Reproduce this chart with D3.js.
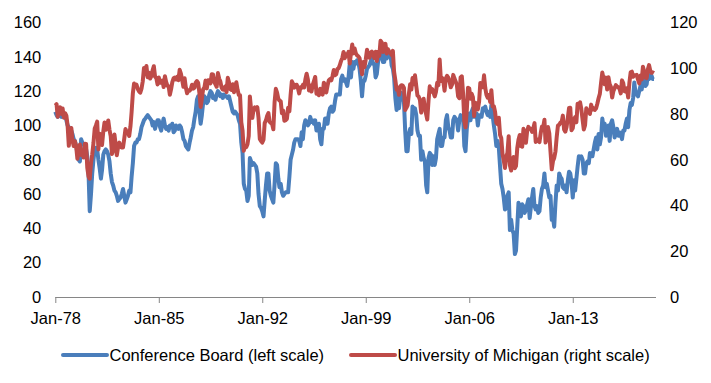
<!DOCTYPE html>
<html>
<head>
<meta charset="utf-8">
<script src="https://cdn.jsdelivr.net/npm/d3@7"></script>
<style>
  body { margin: 0; background: #fff; }
  text { font-family: "Liberation Sans", Arial, sans-serif; font-size: 16.5px; fill: #000; }
</style>
</head>
<body>
<div id="chart"></div>
<script>
// Monthly data, Jan 1978 - Jul 2018 (one row per year)
const startYear = 1978, startMonth = 0;

const confBoard = [
  108, 106, 105, 107, 106, 105, 106, 107, 106, 103, 100, 99,
  98, 97, 95, 92, 91, 88, 84, 80, 79, 92, 90, 89,
  89, 86, 82, 72, 50, 60, 72, 80, 86, 87, 86, 80,
  75, 69, 74, 83, 85, 86, 85, 83, 79, 72, 67, 65,
  62, 61, 59, 56, 57, 58, 60, 63, 59, 55, 57, 59,
  62, 61, 70, 78, 88, 90, 90, 92, 92, 95, 99, 101,
  103, 104, 105, 106, 105, 104, 103, 100, 102, 98, 101, 103,
  103, 99, 97, 101, 104, 100, 98, 99, 97, 100, 99, 101,
  96, 97, 100, 99, 98, 100, 99, 96, 92, 91, 88, 87,
  86, 90, 93, 97, 99, 104, 108, 115, 117, 108, 101, 106,
  113, 117, 116, 113, 114, 118, 120, 119, 116, 117, 115, 118,
  120, 119, 117, 118, 116, 118, 117, 117, 116, 117, 114, 111,
  108, 107, 108, 107, 106, 103, 101, 90, 84, 66, 63, 62,
  56, 59, 81, 79, 77, 78, 77, 76, 72, 60, 53, 52,
  50, 47, 56, 65, 72, 72, 62, 59, 57, 55, 66, 78,
  77, 69, 64, 66, 61, 59, 60, 61, 61, 61, 70, 80,
  83, 86, 90, 92, 92, 92, 91, 88, 96, 92, 100, 103,
  102, 100, 101, 105, 102, 103, 101, 103, 97, 99, 101, 92,
  89, 98, 98, 104, 104, 101, 107, 110, 111, 108, 109, 114,
  118, 118, 118, 118, 127, 129, 126, 127, 125, 123, 128, 136,
  128, 137, 133, 137, 136, 138, 137, 133, 126, 117, 126, 126,
  129, 133, 134, 135, 137, 139, 136, 136, 128, 130, 137, 141,
  144, 140, 137, 137, 144, 139, 143, 140, 142, 135, 133, 128,
  116, 109, 117, 110, 116, 119, 116, 114, 97, 85, 85, 95,
  98, 95, 111, 108, 110, 106, 97, 94, 94, 80, 85, 81,
  79, 65, 61, 81, 84, 83, 77, 82, 77, 81, 92, 95,
  98, 88, 88, 93, 93, 103, 106, 99, 97, 93, 93, 103,
  105, 104, 103, 97, 103, 106, 104, 105, 88, 85, 98, 104,
  107, 103, 108, 110, 105, 105, 107, 100, 106, 105, 105, 110,
  110, 111, 108, 106, 108, 105, 112, 106, 100, 95, 88, 91,
  87, 76, 66, 63, 58, 51, 52, 59, 61, 39, 45, 39,
  37, 25, 27, 41, 55, 49, 47, 54, 53, 49, 51, 54,
  57, 46, 52, 58, 63, 53, 51, 53, 49, 50, 58, 63,
  65, 72, 64, 66, 62, 58, 59, 45, 46, 41, 55, 65,
  62, 72, 70, 69, 64, 63, 65, 61, 68, 73, 72, 67,
  58, 68, 62, 69, 76, 82, 81, 82, 80, 72, 72, 78,
  79, 78, 84, 82, 82, 86, 90, 93, 86, 95, 89, 93,
  104, 99, 101, 94, 95, 100, 91, 101, 103, 99, 93, 96,
  98, 94, 96, 95, 92, 97, 97, 101, 104, 99, 109, 113,
  112, 116, 125, 119, 118, 117, 120, 123, 121, 126, 129, 123,
  124, 130, 127, 129, 129, 127, 127
];

const uMichigan = [
  83.7, 84.3, 78.8, 81.6, 82.9, 80.0, 82.4, 78.4, 80.4, 79.3, 75.0, 66.1,
  72.1, 73.9, 68.4, 66.0, 68.1, 65.8, 60.4, 64.5, 66.7, 62.1, 63.3, 61.0,
  67.0, 66.9, 56.5, 52.7, 51.7, 58.7, 62.3, 67.3, 73.7, 75.0, 76.7, 64.5,
  71.4, 66.9, 66.5, 72.4, 76.3, 73.1, 74.1, 77.2, 73.1, 70.3, 62.5, 64.3,
  71.0, 66.5, 62.0, 65.5, 67.5, 65.7, 65.4, 65.4, 69.3, 73.4, 72.1, 71.9,
  70.4, 74.6, 80.8, 89.1, 93.3, 92.2, 92.8, 90.9, 89.9, 89.3, 91.1, 94.2,
  100.1, 97.4, 101.0, 96.1, 98.1, 95.5, 96.6, 99.1, 100.9, 96.3, 95.7, 92.9,
  96.0, 93.7, 93.7, 94.6, 91.8, 96.5, 94.0, 92.4, 92.1, 88.4, 90.9, 93.9,
  95.6, 95.9, 95.1, 96.2, 94.8, 99.3, 97.7, 94.9, 91.9, 95.6, 91.4, 89.1,
  90.4, 90.2, 90.8, 92.8, 91.1, 91.5, 93.7, 94.4, 93.6, 89.3, 83.1, 86.8,
  90.8, 91.6, 94.6, 91.2, 94.8, 94.7, 93.4, 97.4, 97.3, 94.1, 93.0, 91.9,
  97.9, 95.4, 94.3, 91.5, 90.7, 90.6, 92.0, 89.6, 95.8, 93.9, 90.9, 90.5,
  93.0, 89.5, 91.3, 93.9, 90.6, 88.3, 88.2, 76.4, 72.8, 63.9, 66.0, 65.5,
  66.8, 70.4, 87.7, 81.8, 78.3, 82.1, 82.9, 82.0, 83.0, 78.3, 69.1, 68.2,
  67.5, 68.8, 76.0, 77.2, 79.2, 80.4, 76.6, 76.1, 75.6, 73.3, 85.3, 91.0,
  89.3, 86.6, 85.9, 85.6, 80.3, 81.5, 77.0, 77.3, 77.9, 82.7, 81.2, 88.2,
  94.3, 93.2, 91.5, 92.6, 92.8, 91.2, 89.0, 91.7, 91.5, 92.7, 91.6, 95.1,
  97.6, 95.1, 90.3, 92.5, 89.8, 92.7, 94.4, 96.2, 88.9, 90.2, 88.2, 91.0,
  89.3, 88.5, 93.7, 92.7, 89.4, 92.4, 94.7, 95.3, 94.7, 96.5, 99.2, 96.9,
  97.4, 99.7, 100.0, 101.4, 103.2, 104.5, 107.1, 104.4, 106.0, 105.6, 107.2, 102.1,
  106.6, 110.4, 106.5, 108.7, 106.5, 105.6, 105.2, 104.4, 100.9, 97.4, 102.7, 100.5,
  103.9, 108.1, 105.7, 104.6, 106.8, 107.3, 106.0, 104.5, 107.2, 103.2, 107.2, 105.4,
  112.0, 111.3, 107.1, 109.2, 110.7, 106.4, 108.3, 107.3, 106.8, 105.8, 107.6, 98.4,
  94.7, 90.6, 91.5, 88.4, 92.0, 92.6, 92.4, 91.5, 81.8, 82.7, 83.9, 88.8,
  93.0, 90.7, 95.7, 93.0, 96.9, 92.4, 88.1, 87.6, 86.1, 80.6, 84.2, 86.7,
  82.4, 79.9, 77.6, 86.0, 92.1, 89.7, 90.9, 89.3, 87.7, 89.6, 93.7, 92.6,
  103.8, 94.4, 95.8, 94.2, 90.2, 95.6, 96.7, 95.9, 94.2, 91.7, 92.8, 97.1,
  95.5, 94.1, 92.6, 87.7, 86.9, 96.0, 96.5, 89.1, 76.9, 74.2, 81.6, 91.5,
  91.2, 86.7, 88.9, 87.4, 79.1, 84.9, 84.7, 82.0, 85.4, 93.6, 92.1, 91.7,
  96.9, 91.3, 88.4, 87.1, 88.3, 85.3, 90.4, 83.4, 83.4, 80.9, 76.1, 75.5,
  78.4, 70.8, 69.5, 62.6, 59.8, 56.4, 61.2, 63.0, 70.3, 57.6, 55.3, 60.1,
  61.2, 56.3, 57.3, 65.1, 68.7, 70.8, 66.0, 65.7, 73.5, 70.6, 67.4, 72.5,
  74.4, 73.6, 73.6, 72.2, 73.6, 76.0, 67.8, 68.9, 68.2, 67.7, 71.6, 74.5,
  74.2, 77.5, 67.5, 69.8, 74.3, 71.5, 63.7, 55.8, 59.5, 60.8, 63.7, 69.9,
  75.0, 75.3, 76.2, 76.4, 79.3, 73.2, 72.3, 74.3, 78.3, 82.6, 82.7, 72.9,
  73.8, 77.6, 78.6, 76.4, 84.5, 84.1, 85.1, 82.1, 77.5, 73.2, 75.1, 82.5,
  81.2, 81.6, 80.0, 84.1, 81.9, 82.5, 81.8, 82.5, 84.6, 86.9, 88.8, 93.6,
  98.1, 95.4, 93.0, 95.9, 90.7, 96.1, 93.1, 91.9, 87.2, 90.0, 91.3, 92.6,
  92.0, 91.7, 91.0, 89.0, 94.7, 93.5, 90.0, 89.8, 91.2, 87.2, 93.8, 98.2,
  98.5, 96.3, 96.9, 97.0, 97.1, 95.0, 93.4, 96.8, 95.1, 100.7, 98.5, 95.9,
  95.7, 99.7, 101.4, 98.8, 98.0, 98.2, 97.9
];

const xTickLabels = ["Jan-78", "Jan-85", "Jan-92", "Jan-99", "Jan-06", "Jan-13"];
const leftTicks = [0, 20, 40, 60, 80, 100, 120, 140, 160];
const rightTicks = [0, 20, 40, 60, 80, 100, 120];
const seriesNames = ["Conference Board (left scale)", "University of Michigan (right scale)"];

const blue = "#4a7ebb", red = "#be4b48";

const svg = d3.select("#chart")
    .append("svg")
    .attr("width", 711)
    .attr("height", 383);

const dates = confBoard.map((d, i) => new Date(startYear, startMonth + i, 1));
const parseTick = d3.timeParse("%b-%y");

const x = d3.scaleTime()
    .domain([dates[0], dates[dates.length - 1]])
    .range([55.3, 654]);

const yLeft = d3.scaleLinear().domain([0, 160]).range([297, 22.5]);
const yRight = d3.scaleLinear().domain([0, 120]).range([297, 22.5]);

// x axis with tick marks below the line
const xAxis = svg.append("g")
    .attr("transform", "translate(0,297)")
    .call(d3.axisBottom(x)
        .tickValues(xTickLabels.map(parseTick))
        .tickFormat(d3.timeFormat("%b-%y"))
        .tickSizeInner(6)
        .tickSizeOuter(0)
        .tickPadding(9));
xAxis.select(".domain").attr("stroke", "#868686").attr("d", "M55.3,0.5H656");
xAxis.selectAll(".tick line").attr("stroke", "#868686");

// left axis labels
const yAxisL = svg.append("g")
    .attr("transform", "translate(55.3,0)")
    .call(d3.axisLeft(yLeft).tickValues(leftTicks).tickSize(0).tickPadding(14));
yAxisL.select(".domain").remove();

// right axis labels
const yAxisR = svg.append("g")
    .attr("transform", "translate(656,0)")
    .call(d3.axisRight(yRight).tickValues(rightTicks).tickSize(0).tickPadding(14));
yAxisR.select(".domain").remove();

svg.selectAll(".tick text").attr("font-size", null).attr("font-family", null);

// lines
const lineL = d3.line()
    .x((d, i) => x(dates[i]))
    .y(d => yLeft(d));
const lineR = d3.line()
    .x((d, i) => x(dates[i]))
    .y(d => yRight(d));

svg.append("path")
    .datum(confBoard)
    .attr("fill", "none")
    .attr("stroke", blue)
    .attr("stroke-width", 4)
    .attr("stroke-linejoin", "round")
    .attr("d", lineL);

svg.append("path")
    .datum(uMichigan)
    .attr("fill", "none")
    .attr("stroke", red)
    .attr("stroke-width", 4)
    .attr("stroke-linejoin", "round")
    .attr("d", lineR);

// legend
const legendItems = [
    {name: seriesNames[0], color: blue, x: 63},
    {name: seriesNames[1], color: red, x: 351}
];
const legend = svg.selectAll(".legend")
    .data(legendItems)
    .join("g")
    .attr("class", "legend")
    .attr("transform", d => `translate(${d.x},355)`);
legend.append("line")
    .attr("x1", 0).attr("x2", 44)
    .attr("stroke", d => d.color)
    .attr("stroke-width", 4)
    .attr("stroke-linecap", "round");
legend.append("text")
    .attr("x", 46.5)
    .attr("y", 6)
    .text(d => d.name);
</script>
</body>
</html>
